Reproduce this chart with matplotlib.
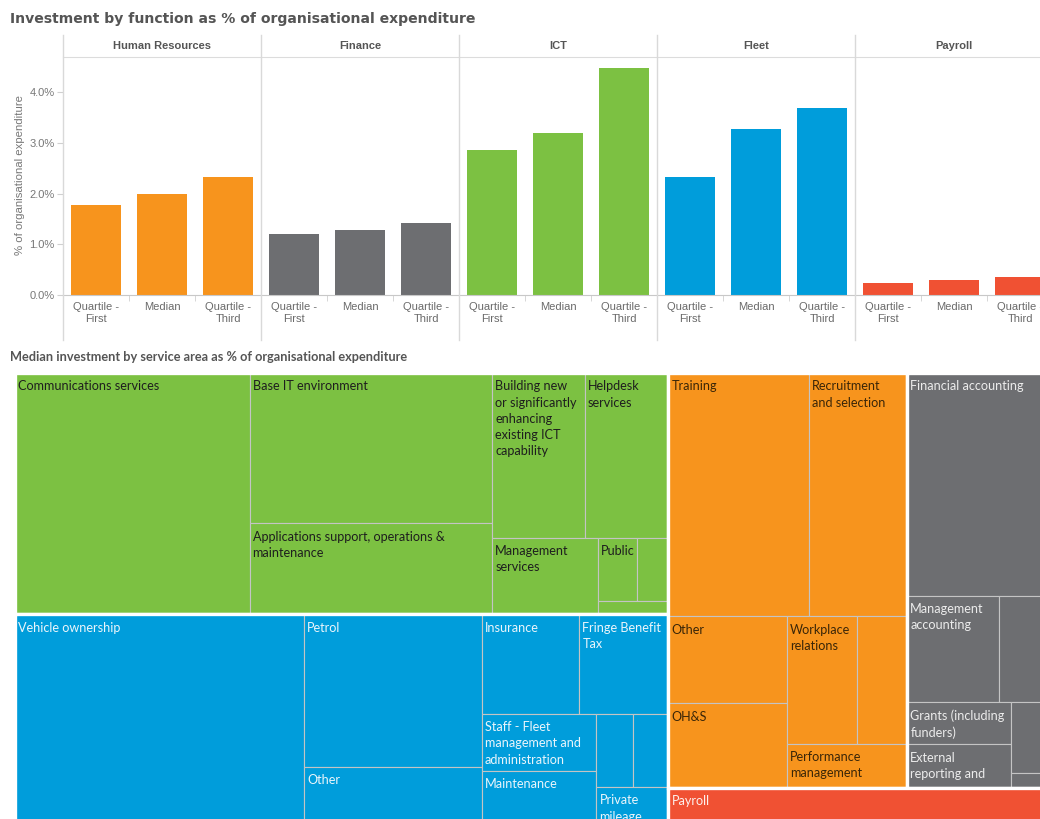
import matplotlib
matplotlib.use("Agg")
import matplotlib.pyplot as plt
from matplotlib.patches import Rectangle
from matplotlib.lines import Line2D

plt.rcParams['font.family'] = ['Liberation Sans', 'DejaVu Sans']

W, H = 1040, 819  # figure size in pixels

# ---------------- bar chart data ----------------
functions = ["Human Resources", "Finance", "ICT", "Fleet", "Payroll"]
stats = ["Quartile -\nFirst", "Median", "Quartile -\nThird"]
q1 = [1.77, 1.20, 2.86, 2.32, 0.23]
med = [1.99, 1.29, 3.20, 3.28, 0.29]
q3 = [2.32, 1.42, 4.47, 3.68, 0.35]
colours = ["#f7941d", "#6d6e71", "#7cc142", "#009ddb", "#f05133"]

# ---------------- treemap data (median % of expenditure) ----------------
ict_names = ["Communications services", "Base IT environment",
             "Applications support, operations &\nmaintenance",
             "Building new\nor significantly\nenhancing\nexisting ICT\ncapability",
             "Helpdesk\nservices", "Management\nservices", "Public", "", ""]
ict_vals = [1.15, 0.74, 0.45, 0.31, 0.28, 0.165, 0.05, 0.04, 0.019]

fleet_names = ["Vehicle ownership", "Petrol", "Other", "Insurance", "Fringe Benefit\nTax",
               "Staff - Fleet\nmanagement and\nadministration", "Maintenance", "", "",
               "Private\nmileage"]
fleet_vals = [1.227, 0.551, 0.203, 0.197, 0.180, 0.133, 0.121, 0.055, 0.052, 0.053]

hr_names = ["Training", "Recruitment\nand selection", "Other", "OH&S",
            "Workplace\nrelations", "", "Performance\nmanagement"]
hr_vals = [0.694, 0.486, 0.210, 0.203, 0.182, 0.130, 0.108]

fin_names = ["Financial accounting", "Management\naccounting", "",
             "Grants (including\nfunders)", "External\nreporting and", "", ""]
fin_vals = [0.700, 0.198, 0.137, 0.089, 0.091, 0.074, 0.015]

payroll_names = ["Payroll"]
payroll_vals = [0.282]

# nesting of the treemap: 'h' = side by side, 'v' = stacked
ict_tree = ('h', [0, ('v', [1, 2]), ('v', [('h', [3, 4]), ('h', [5, ('v', [('h', [6, 7]), 8])])])])
fleet_tree = ('h', [0, ('v', [1, 2]), ('v', [('h', [3, 4]), ('h', [('v', [5, 6]), ('v', [('h', [7, 8]), 9])])])])
hr_tree = ('v', [('h', [0, 1]), ('h', [('v', [2, 3]), ('v', [('h', [4, 5]), 6])])])
fin_tree = ('v', [0, ('h', [1, 2]), ('h', [('v', [3, 4]), ('v', [5, 6])])])
payroll_tree = ('h', [0])

groups = [
    (ict_names, ict_vals, ict_tree, colours[2], "#1e1e1e"),
    (fleet_names, fleet_vals, fleet_tree, colours[3], "#eaf5fb"),
    (hr_names, hr_vals, hr_tree, colours[0], "#3a2608"),
    (fin_names, fin_vals, fin_tree, colours[1], "#ececec"),
    (payroll_names, payroll_vals, payroll_tree, colours[4], "#fdf0ec"),
]
top_tree = ('h', [('v', [0, 1]), ('v', [('h', [2, 3]), 4])])


def total(node, vals):
    if isinstance(node, int):
        return vals[node]
    return sum(total(k, vals) for k in node[1])


def layout(node, vals, x, y, w, h, out):
    if isinstance(node, int):
        out[node] = (x, y, w, h)
        return
    d, kids = node
    s = total(node, vals)
    for k in kids:
        f = total(k, vals) / s
        if d == 'h':
            layout(k, vals, x, y, w * f, h, out)
            x += w * f
        else:
            layout(k, vals, x, y, w, h * f, out)
            y += h * f


fig = plt.figure(figsize=(W / 100, H / 100), dpi=100)

# ---------------- titles ----------------
fig.text(10 / W, 1 - 19 / H, "Investment by function as % of organisational expenditure",
         fontsize=10.1, fontweight='bold', color='#555555', va='center', ha='left',
         family=['DejaVu Sans'])
fig.text(10 / W, 1 - 357 / H, "Median investment by service area as % of organisational expenditure",
         fontsize=9.2, fontweight='bold', color='#555555', va='center', ha='left',
         family=['Lato', 'DejaVu Sans'])

# ---------------- faceted bars ----------------
x0, pw, ytop, ybase = 63, 198, 57, 295
px_per_pct = 50.75
for i, fn in enumerate(functions):
    ax = fig.add_axes([(x0 + pw * i) / W, 1 - ybase / H, pw / W, (ybase - ytop) / H])
    ax.bar(range(3), [q1[i], med[i], q3[i]], width=0.76, color=colours[i])
    ax.set_xlim(-0.5, 2.5)
    ax.set_ylim(0, (ybase - ytop) / px_per_pct)
    for s in ['left', 'right']:
        ax.spines[s].set_visible(False)
    ax.spines['top'].set_color('#dcdcdc')
    ax.spines['bottom'].set_color('#c8c8c8')
    ax.set_xticks(range(3))
    ax.set_xticklabels(stats, fontsize=8, color='#6a6a6a', linespacing=1.3)
    ax.set_xticks([0.5, 1.5], minor=True)
    ax.tick_params(axis='x', which='major', length=0, pad=5)
    ax.tick_params(axis='x', which='minor', length=4, color='#d0d0d0')
    ax.text(0.5, (ybase - 46) / (ybase - ytop), fn, transform=ax.transAxes, ha='center',
            va='center', fontsize=8, fontweight='bold', color='#555555')
    if i == 0:
        ax.set_yticks([0, 1, 2, 3, 4])
        ax.set_yticklabels(["%.1f%%" % v for v in [0, 1, 2, 3, 4]], fontsize=8, color='#777777')
        ax.tick_params(axis='y', length=4, color='#d0d0d0', pad=2)
    else:
        ax.tick_params(axis='y', left=False, labelleft=False)

for i in range(6):
    xx = (x0 + pw * i) / W
    fig.add_artist(Line2D([xx, xx], [1 - 35 / H, 1 - 340 / H], transform=fig.transFigure,
                          color='#d9d9d9', lw=1))

fig.text(20 / W, 1 - 175 / H, "% of organisational expenditure", rotation=90, fontsize=8.2,
         color='#777777', va='center', ha='center')

# ---------------- treemap ----------------
tl, tt, tw, th = 15, 373, 1047, 450
tax = fig.add_axes([tl / W, 1 - (tt + th) / H, tw / W, th / H])
tax.set_xlim(0, tw)
tax.set_ylim(th, 0)
tax.axis('off')

group_vals = [sum(g[1]) for g in groups]
group_rects = {}
layout(top_tree, group_vals, 0, 0, tw, th, group_rects)

for gi, (names, vals, tree, col, tcol) in enumerate(groups):
    gx, gy, gw, gh = group_rects[gi]
    leaf_rects = {}
    layout(tree, vals, gx, gy, gw, gh, leaf_rects)
    for li, name in enumerate(names):
        lx, ly, lw, lh = leaf_rects[li]
        r = Rectangle((lx, ly), lw, lh, facecolor=col, edgecolor='#c4c4c4', lw=0.8)
        tax.add_patch(r)
        if name:
            t = tax.text(lx + 3, ly + 7.5, name, ha='left', va='top', fontsize=9.1,
                         color=tcol, linespacing=1.42, family=['Lato', 'DejaVu Sans'])
            t.set_clip_path(r)
    tax.add_patch(Rectangle((gx, gy), gw, gh, facecolor='none', edgecolor='white', lw=2.4))

fig.savefig("out.png", dpi=100)
